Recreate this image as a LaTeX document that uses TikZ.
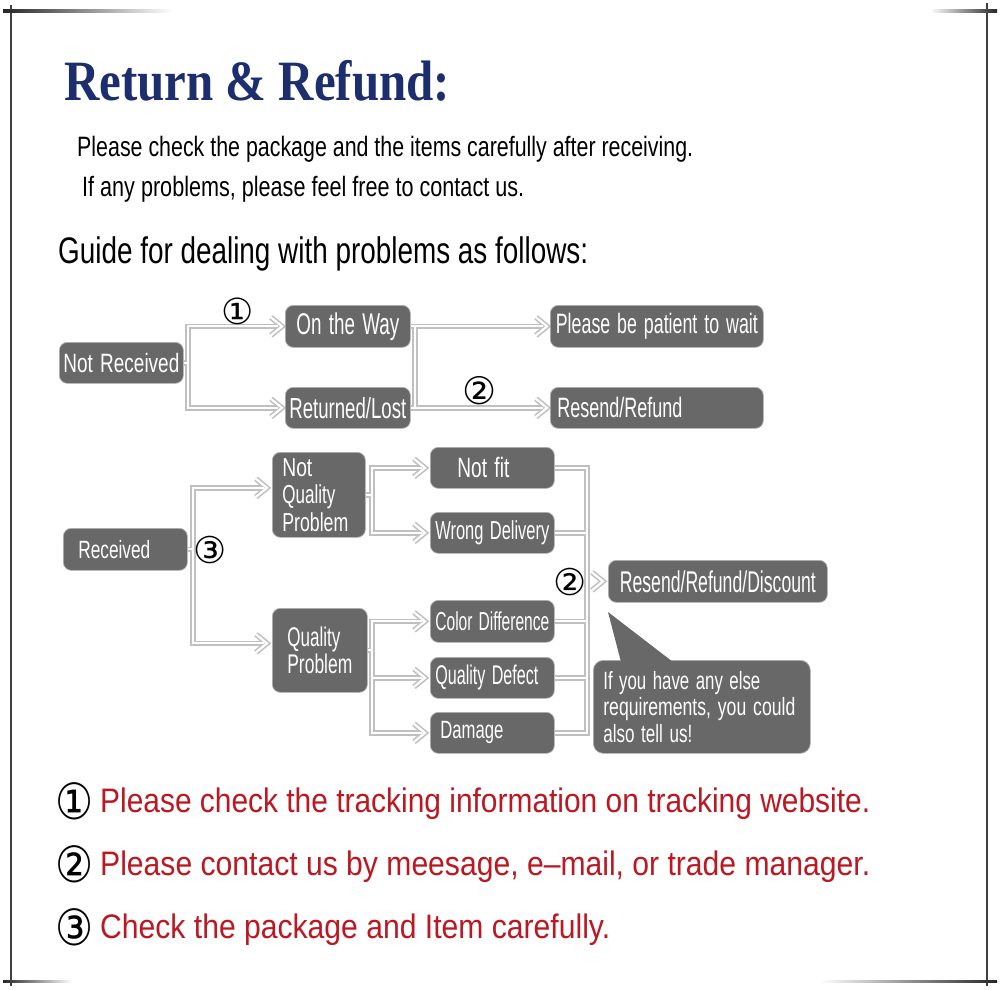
\documentclass[tikz,border=0pt]{standalone}
\usepackage{fontspec}
\setmainfont{Liberation Sans}
\newfontfamily\cfont[WordSpace=1.4]{Liberation Sans}
\newfontfamily\dejavu{DejaVu Sans}
\newfontfamily\tserif{Liberation Serif}
\usepackage{graphicx}
\usetikzlibrary{calc}
\definecolor{boxgray}{RGB}{104,104,104}
\definecolor{pipegray}{RGB}{192,192,192}
\definecolor{navy}{RGB}{28,46,110}
\definecolor{darkred}{RGB}{188,24,34}
\newcommand{\tx}[3]{\resizebox{#2pt}{\height}{\fontsize{#1}{#1}\selectfont\spaceskip=0pt\xspaceskip=0pt\relax #3}}
\newcommand{\cx}[3]{\resizebox{#2pt}{\height}{\fontsize{#1}{#1}\selectfont\cfont\spaceskip=0pt\xspaceskip=0pt\relax #3}}
\newcommand{\circnum}[2]{{\fontsize{#1}{#1}\selectfont\dejavu #2}}
\newcommand{\chev}[1]{\draw[conn] (#1) ++(-11,-9) -- (#1) -- ++(-11,9);}
\pgfdeclarelayer{paper}\pgfdeclarelayer{bg}\pgfsetlayers{paper,bg,main}
\newcommand{\conns}{%
  % Not received
  \draw[conn] (nr.east) -- (v1 |- nr.east);
  \draw[conn] ([xshift=-7pt]otw.west) -| (v1 |- rl.west) -- ([xshift=-7pt]rl.west);
  \chev{[xshift=-3pt]otw.west}
  \chev{[xshift=-3pt]rl.west}
  % on the way / returned
  \draw[conn] (otw.east) -- (v2 |- otw.east);
  \draw[conn] (rl.east) -- (v2 |- rl.east);
  \draw[conn] ([xshift=-7pt]pbp.west) -| (v2 |- rr.west) -- ([xshift=-7pt]rr.west);
  \chev{[xshift=-3pt]pbp.west}
  \chev{[xshift=-3pt]rr.west}
  % received
  \draw[conn] (rec.east) -- (v3 |- rec.east);
  \draw[conn] ([xshift=-8pt]nqpin) -| (v3 |- qpin) -- ([xshift=-8pt]qpin);
  \chev{[xshift=-5pt]nqpin}
  \chev{[xshift=-5pt]qpin}
  % not quality problem
  \draw[conn] (nqp.east) -- (v4 |- nqp.east);
  \draw[conn] ([xshift=-8pt]nf.west) -| (v4 |- wd.west) -- ([xshift=-8pt]wd.west);
  \chev{[xshift=-5pt]nf.west}
  \chev{[xshift=-5pt]wd.west}
  % quality problem
  \draw[conn] (qp.east) -- (v4 |- qp.east);
  \draw[conn] ([xshift=-8pt]cd.west) -| (v4 |- dm.west) -- ([xshift=-8pt]dm.west);
  \draw[conn] (v4 |- qd.west) -- ([xshift=-8pt]qd.west);
  \chev{[xshift=-5pt]cd.west}
  \chev{[xshift=-5pt]qd.west}
  \chev{[xshift=-5pt]dm.west}
  % collector
  \draw[conn] (nf.east) -| (v5 |- dm.east) -- (dm.east);
  \draw[conn] (wd.east) -- (v5 |- wd.east);
  \draw[conn] (cd.east) -- (v5 |- cd.east);
  \draw[conn] (qd.east) -- (v5 |- qd.east);
  \chev{[xshift=-5pt]rrd.west}
}
\begin{document}
\begin{tikzpicture}[x=1pt, y=-1pt,
  box/.style={fill=boxgray, draw=gray!60, line width=0.7pt, rounded corners=8pt,
    inner sep=0pt, text=white, anchor=north west},
  lbox/.style={box, align=left},
  plain/.style={inner sep=0pt, anchor=base west},
  frame/.style={draw=black!75, line width=1.1pt}]
\useasboundingbox (0,0) rectangle (1000,989);
\begin{pgfonlayer}{paper}
\fill[white] (0,0) rectangle (1000,989);
\end{pgfonlayer}

% frame marks
\draw[frame] (11,5) -- (11,986);
\draw[frame] (987,3) -- (987,986);
\shade[left color=black!85, right color=white] (3,9.8) rectangle (172,12.2);
\shade[left color=white, right color=black!85] (930,9.8) rectangle (997,12.2);
\shade[left color=black!85, right color=white] (3,980) rectangle (72,982.4);
\shade[left color=white, right color=black!85] (820,980) rectangle (997,982.4);

% title and intro
\node[plain, text=navy] (title) at (64,100)
  {\resizebox{386pt}{\height}{\fontsize{57}{57}\selectfont\tserif\bfseries Return \& Refund:}};
\node[plain] (s1) at (77,156) {\tx{28}{616}{Please check the package and the items carefully after receiving.}};
\node[plain] (s2) at (82,196) {\tx{28}{442}{If any problems, please feel free to contact us.}};
\node[plain] (guide) at (58,263) {\tx{37}{530}{Guide for dealing with problems as follows:}};

% boxes
\node[box, minimum width=124pt, minimum height=41pt] (nr) at (59,342) {\cx{26.5}{116}{Not Received}};
\node[box, minimum width=125pt, minimum height=42pt] (otw) at (285,305) {\cx{30}{103}{On the Way}};
\node[box, minimum width=125pt, minimum height=41pt] (rl) at (285,387) {\cx{29}{117}{Returned/Lost}};
\node[box, minimum width=213pt, minimum height=42pt] (pbp) at (550,305) {\cx{28}{202}{Please be patient to wait}};
\node[lbox, text width=199pt, inner xsep=7pt, minimum height=41pt] (rr) at (550,387) {\cx{28}{125}{Resend/Refund}};
\node[lbox, text width=94pt, inner xsep=15pt, minimum height=42pt] (rec) at (63,528) {\cx{25}{72}{Received}};
\node[lbox, text width=73pt, inner xsep=10pt, minimum height=85pt, font=\fontsize{26}{27.5}\selectfont] (nqp) at (272,452)
  {\cx{26}{30}{Not}\\\cx{26}{53}{Quality}\\\cx{26}{66}{Problem}};
\node[lbox, text width=65pt, inner xsep=15pt, minimum height=84pt, font=\fontsize{27}{27}\selectfont] (qp) at (272,608)
  {\cx{27}{53}{Quality}\\\cx{27}{65}{Problem}};
\node[lbox, text width=70pt, inner xsep=27pt, minimum height=41pt] (nf) at (430,447) {\cx{28}{52}{Not fit}};
\node[box, minimum width=124pt, minimum height=41pt] (wd) at (430,512) {\cx{26}{114}{Wrong Delivery}};
\node[box, minimum width=124pt, minimum height=42pt] (cd) at (430,600) {\cx{26}{114}{Color Difference}};
\node[lbox, text width=114pt, inner xsep=5pt, minimum height=41pt] (qd) at (430,657) {\cx{27}{103}{Quality Defect}};
\node[lbox, text width=104pt, inner xsep=10pt, minimum height=41pt] (dm) at (430,712) {\cx{25}{63}{Damage}};
\node[box, minimum width=219pt, minimum height=42pt] (rrd) at (608,560) {\cx{30}{196}{Resend/Refund/Discount}};
\node[lbox, text width=197pt, inner xsep=10pt, minimum height=93pt, rounded corners=10pt, font=\fontsize{25}{26.5}\selectfont] (bub) at (593,660)
  {\cx{25}{157}{If you have any else}\\\cx{25}{192}{requirements, you could}\\\cx{25}{89}{also tell us!}};
\coordinate (tail) at (608,612);
\fill[boxgray] ([xshift=28pt,yshift=-2pt]bub.north west) -- (tail) -- ([xshift=80pt,yshift=-2pt]bub.north west) -- cycle;

% junction coordinates
\coordinate (v1) at (188,0);
\coordinate (v2) at (415,0);
\coordinate (v3) at (193,0);
\coordinate (v4) at (372,0);
\coordinate (v5) at (587,0);
\coordinate (nqpin) at ([yshift=7pt]nqp.west);
\coordinate (qpin) at ([yshift=7pt]qp.west);

\begin{pgfonlayer}{bg}
  \begin{scope}[conn/.style={draw=pipegray, line width=5.4pt}]
    \conns
  \end{scope}
  \begin{scope}[conn/.style={draw=white, line width=2.2pt}]
    \conns
  \end{scope}
\end{pgfonlayer}

% circled labels
\node[inner sep=0pt] (c1) at (238,311) {\circnum{36}{①}};
\node[inner sep=0pt] (c2) at (480,391) {\circnum{38}{②}};
\node[inner sep=0pt] (c3) at (210,550) {\circnum{37}{③}};
\node[inner sep=0pt] (c4) at (570,582) {\circnum{37}{②}};

% bottom notes
\node[inner sep=0pt] (n1) at (75,801) {\scalebox{0.85}[1]{\circnum{50}{①}}};
\node[plain, text=darkred] (l1) at (100,812) {\tx{34}{770}{Please check the tracking information on tracking website.}};
\node[inner sep=0pt] (n2) at (75,864) {\scalebox{0.85}[1]{\circnum{50}{②}}};
\node[plain, text=darkred] (l2) at (100,875) {\tx{34}{770}{Please contact us by meesage, e–mail, or trade manager.}};
\node[inner sep=0pt] (n3) at (75,927) {\scalebox{0.85}[1]{\circnum{50}{③}}};
\node[plain, text=darkred] (l3) at (100,938) {\tx{34}{510}{Check the package and Item carefully.}};
\end{tikzpicture}
\end{document}
